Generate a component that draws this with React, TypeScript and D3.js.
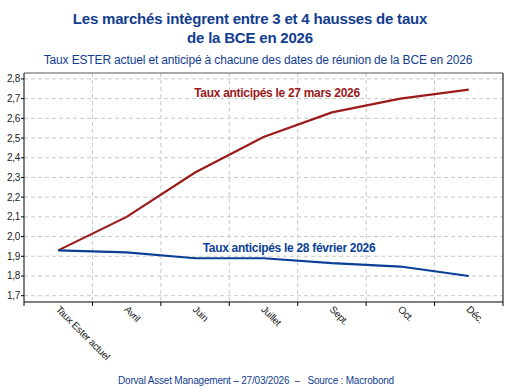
import React from "react";
import * as d3 from "d3";

const categories = ["Taux Ester actuel", "Avril", "Juin", "Juillet", "Sept.", "Oct.", "Déc."];
const seriesMars = [1.93, 2.10, 2.325, 2.505, 2.63, 2.70, 2.746];
const seriesFevrier = [1.93, 1.92, 1.89, 1.89, 1.865, 1.848, 1.80];
const yTicks = [1.7, 1.8, 1.9, 2.0, 2.1, 2.2, 2.3, 2.4, 2.5, 2.6, 2.7, 2.8];
const titleLines = ["Les marchés intègrent entre 3 et 4 hausses de taux", "de la BCE en 2026"];
const subtitle = "Taux ESTER actuel et anticipé à chacune des dates de réunion de la BCE en 2026";
const labelMars = "Taux anticipés le 27 mars 2026";
const labelFevrier = "Taux anticipés le 28 février 2026";
const footer = "Dorval Asset Management – 27/03/2026  –   Source : Macrobond";

const W = 510, H = 392;
const L = 24, R = 503, T = 73, B = 302;
const RED = "#9b1a1a";
const BLUE = "#0b3f95";
const TITLE = "#123d8f";
const FONT = "'Liberation Sans', Arial, sans-serif";

export default function App() {
  const x = d3.scaleBand<string>().domain(categories).range([L, R]);
  const y = d3.scaleLinear().domain([1.668, 2.83]).range([B, T]);
  const cx = (c: string) => (x(c) as number) + x.bandwidth() / 2;
  const line = d3.line<number>().x((_, i) => cx(categories[i])).y((d) => y(d));
  const boundaries = categories.slice(1).map((c) => x(c) as number);

  return (
    <svg width={W} height={H} style={{ position: "absolute", left: 0, top: 0 }} fontFamily={FONT}>
      <rect width={W} height={H} fill="#fff" />
      {titleLines.map((t, i) => (
        <text key={i} x={250} y={24 + i * 19} textAnchor="middle" fontSize={15} fontWeight="bold" fill={TITLE} letterSpacing={-0.2}>
          {t}
        </text>
      ))}
      <text x={258} y={64} textAnchor="middle" fontSize={12} fill={TITLE} letterSpacing={-0.15}>
        {subtitle}
      </text>
      {/* grid */}
      {yTicks.map((t) => (
        <line key={t} x1={L} x2={R} y1={y(t)} y2={y(t)} stroke="#c8c8c8" strokeDasharray="4,3" />
      ))}
      {boundaries.map((b, i) => (
        <line key={i} x1={b} x2={b} y1={T} y2={B} stroke="#c8c8c8" strokeDasharray="4,3" />
      ))}
      {/* frame */}
      <line x1={L} x2={R} y1={T} y2={T} stroke="#555" />
      <line x1={R} x2={R} y1={T} y2={B} stroke="#000" />
      <line x1={L} x2={L} y1={T} y2={B} stroke="#000" />
      <line x1={L} x2={R} y1={B} y2={B} stroke="#000" />
      {/* y ticks */}
      {yTicks.map((t) => (
        <g key={t}>
          <line x1={L - 3} x2={L} y1={y(t)} y2={y(t)} stroke="#000" />
          <text x={L - 4} y={y(t) + 3.5} textAnchor="end" fontSize={10} fill="#222" letterSpacing={-0.3}>
            {d3.format(".1f")(t).replace(".", ",")}
          </text>
        </g>
      ))}
      {/* x ticks */}
      {[L, ...boundaries, R].map((b, i) => (
        <line key={i} x1={b} x2={b} y1={B} y2={B + 4} stroke="#000" />
      ))}
      {categories.map((c) => (
        <text key={c} transform={`translate(${cx(c) - 3},${B + 8}) rotate(45)`} fontSize={10} fill="#222" letterSpacing={-0.3}>
          {c}
        </text>
      ))}
      {/* lines */}
      <path d={line(seriesMars) || ""} fill="none" stroke={RED} strokeWidth={2.2} />
      <path d={line(seriesFevrier) || ""} fill="none" stroke={BLUE} strokeWidth={2.2} />
      <text x={277} y={97} textAnchor="middle" fontSize={12} fontWeight="bold" fill={RED} letterSpacing={-0.3}>
        {labelMars}
      </text>
      <text x={289} y={252} textAnchor="middle" fontSize={12} fontWeight="bold" fill={BLUE} letterSpacing={-0.3}>
        {labelFevrier}
      </text>
      <text x={256} y={384} textAnchor="middle" fontSize={10} fill={TITLE} letterSpacing={-0.2} style={{ whiteSpace: "pre" }}>
        {footer}
      </text>
    </svg>
  );
}
